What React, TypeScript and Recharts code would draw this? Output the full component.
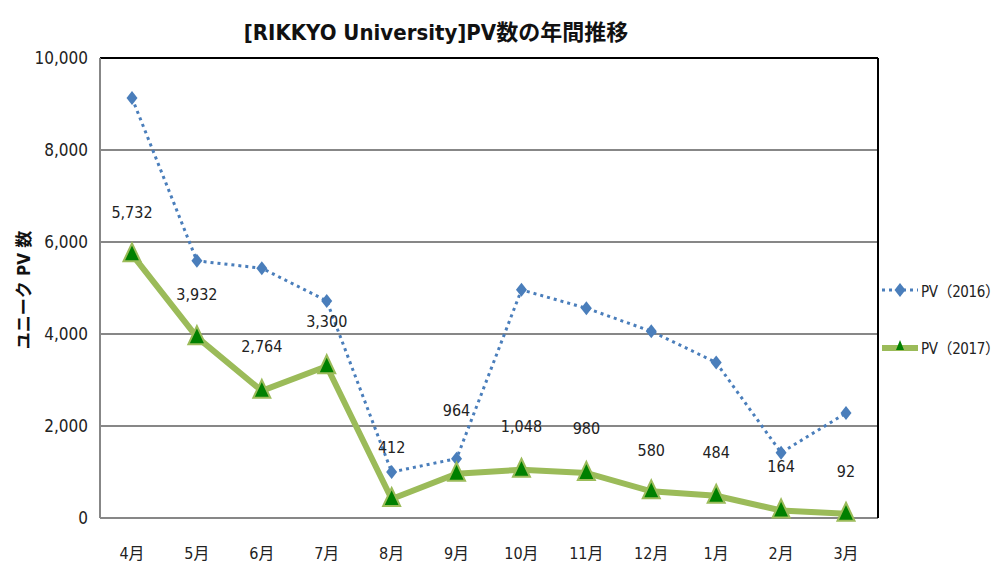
import { LineChart, Line, XAxis, YAxis, CartesianGrid, LabelList, ReferenceLine } from 'recharts';

const months = ['4月', '5月', '6月', '7月', '8月', '9月', '10月', '11月', '12月', '1月', '2月', '3月'];
const pv2016 = [9130, 5590, 5430, 4720, 1000, 1290, 4960, 4560, 4060, 3380, 1420, 2280];
const pv2017 = [5732, 3932, 2764, 3300, 412, 964, 1048, 980, 580, 484, 164, 92];
const yTicks = [0, 2000, 4000, 6000, 8000, 10000];

// ラベルの微調整（元の図で手動で動かされている分）
const labelLift = [42, 43, 44, 45, 52, 63, 43, 44, 41, 43, 44, 42];

const FONT = '"DejaVu Sans Condensed", "Liberation Sans Narrow", "Noto Sans CJK JP", sans-serif';
const BLUE = '#4A7EBB';
const GREEN = '#9BBB59';
const DARK_GREEN = '#008000';

const data = months.map((m, i) => ({ month: m, pv2016: pv2016[i], pv2017: pv2017[i] }));

function Diamond(props: any) {
  const { cx, cy, index } = props;
  if (cx == null || cy == null) return null;
  return (
    <path
      key={`d-${index}`}
      d={`M${cx},${cy - 7} L${cx + 5.5},${cy} L${cx},${cy + 7} L${cx - 5.5},${cy} Z`}
      fill={BLUE}
    />
  );
}

function Triangle(props: any) {
  const { cx, cy, index } = props;
  if (cx == null || cy == null) return null;
  return (
    <path
      key={`t-${index}`}
      d={`M${cx},${cy - 11} L${cx + 8.5},${cy + 7} L${cx - 8.5},${cy + 7} Z`}
      fill={DARK_GREEN}
      stroke={GREEN}
      strokeWidth={2}
    />
  );
}

function ValueLabel(props: any) {
  const { x, y, value, index } = props;
  return (
    <text
      x={x}
      y={y - labelLift[index]}
      textAnchor="middle"
      dominantBaseline="central"
      fontSize={16}
      fontFamily={FONT}
      fill="#222"
    >
      {Number(value).toLocaleString('en-US')}
    </text>
  );
}

function LegendBox() {
  return (
    <div
      style={{
        position: 'absolute',
        left: 880,
        top: 278,
        width: 118,
        fontFamily: FONT,
        fontSize: 15,
        letterSpacing: -0.4,
        color: '#222',
        whiteSpace: 'nowrap',
      }}
    >
      <div style={{ display: 'flex', alignItems: 'center', height: 24 }}>
        <svg width={40} height={20} style={{ flexShrink: 0 }}>
          <line x1={2} y1={10} x2={38} y2={10} stroke={BLUE} strokeWidth={3} strokeDasharray="3 4" />
          <path d="M20,3 L25.5,10 L20,17 L14.5,10 Z" fill={BLUE} />
        </svg>
        <span style={{ marginLeft: 1 }}>PV（2016）</span>
      </div>
      <div style={{ display: 'flex', alignItems: 'center', height: 24, marginTop: 33 }}>
        <svg width={40} height={20} style={{ flexShrink: 0 }}>
          <line x1={2} y1={11} x2={38} y2={11} stroke={GREEN} strokeWidth={6} />
          <path d="M20,3 L24,13 L16,13 Z" fill={DARK_GREEN} />
        </svg>
        <span style={{ marginLeft: 1 }}>PV（2017）</span>
      </div>
    </div>
  );
}

export default function App() {
  return (
    <div style={{ position: 'absolute', left: 0, top: 0, width: 998, height: 571, background: '#fff' }}>
      <div
        style={{
          position: 'absolute',
          top: 14,
          left: 0,
          width: 872,
          textAlign: 'center',
          fontFamily: FONT,
          fontWeight: 'bold',
          fontSize: 22,
          color: '#111',
          zIndex: 2,
        }}
      >
        [RIKKYO University]PV数の年間推移
      </div>
      <LegendBox />
      <LineChart width={998} height={571} data={data} margin={{ top: 58, right: 119, bottom: 13, left: 40 }}>
        <CartesianGrid yAxisId="left" vertical={false} stroke="#878787" strokeWidth={2} />
        <XAxis
          dataKey="month"
          padding={{ left: 32, right: 32 }}
          axisLine={{ stroke: '#878787', strokeWidth: 2 }}
          tickLine={false}
          height={40}
          tickMargin={24}
          tick={{ fontSize: 16, fontFamily: FONT, fill: '#222' }}
        />
        <YAxis
          yAxisId="left"
          domain={[0, 10000]}
          ticks={yTicks}
          width={60}
          axisLine={{ stroke: '#878787', strokeWidth: 2 }}
          tickLine={false}
          tickMargin={6}
          tick={{ fontSize: 17, fontFamily: FONT, fill: '#222' }}
          tickFormatter={(v: number) => v.toLocaleString('en-US')}
          label={{
            content: () => (
              <text
                x={24}
                y={290}
                transform="rotate(-90 24 290)"
                textAnchor="middle"
                dominantBaseline="central"
                fontSize={17}
                fontWeight="bold"
                fontFamily={FONT}
                fill="#111"
              >
                ユニーク PV 数
              </text>
            ),
          }}
        />
        <YAxis
          yAxisId="right"
          orientation="right"
          domain={[0, 10000]}
          width={1}
          tick={false}
          tickLine={false}
          axisLine={{ stroke: '#000', strokeWidth: 2 }}
        />
        <ReferenceLine yAxisId="left" y={10000} stroke="#000" strokeWidth={2} />
        <Line
          yAxisId="left"
          dataKey="pv2016"
          name="PV（2016）"
          stroke={BLUE}
          strokeWidth={3}
          strokeDasharray="3 4"
          dot={Diamond}
          activeDot={false}
          isAnimationActive={false}
        />
        <Line
          yAxisId="left"
          dataKey="pv2017"
          name="PV（2017）"
          stroke={GREEN}
          strokeWidth={6}
          dot={Triangle}
          activeDot={false}
          isAnimationActive={false}
        >
          <LabelList dataKey="pv2017" content={<ValueLabel />} />
        </Line>
      </LineChart>
    </div>
  );
}
